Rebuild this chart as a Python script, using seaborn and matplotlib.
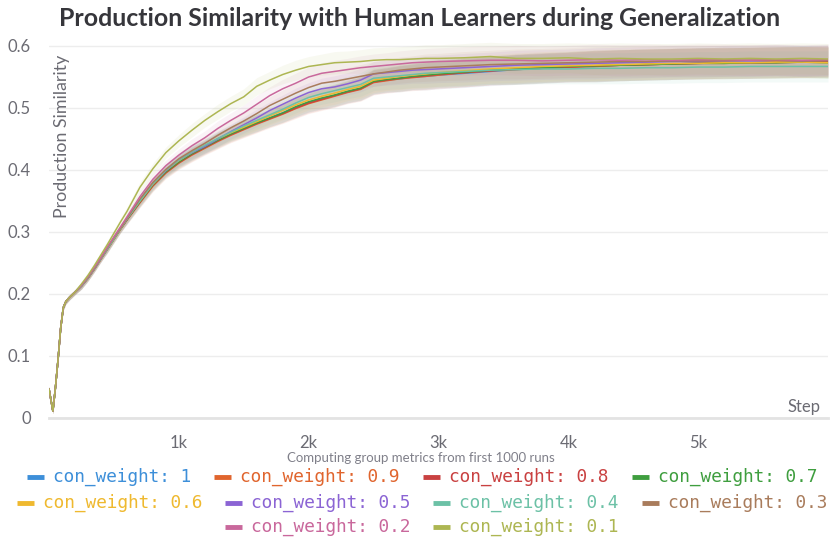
import numpy as np
import pandas as pd
import matplotlib
matplotlib.use("Agg")
import matplotlib.pyplot as plt
import seaborn as sns
from matplotlib.lines import Line2D

# ---------------- data ----------------
steps = [0, 30, 50, 70, 90, 110, 130, 160, 200, 250, 300, 350, 400, 450, 500, 550, 600,
         700, 800, 900, 1000, 1100, 1200, 1300, 1400, 1500, 1600, 1700, 1800, 1900, 2000,
         2100, 2200, 2300, 2400, 2500, 2600, 2700, 2800, 2900, 3000,
         3200, 3400, 3600, 3800, 4000, 4200, 4400, 4600, 4800, 5000, 5200, 5400, 5600, 5800, 6000]

# identical start for all runs (steps 0..200)
early_common = [0.047, 0.011, 0.050, 0.095, 0.145, 0.178, 0.188, 0.195, 0.203]

cw_1 = early_common + [0.213, 0.226, 0.241, 0.257, 0.273, 0.289, 0.305, 0.320,
        0.349, 0.376, 0.398, 0.414, 0.427, 0.438, 0.449, 0.459, 0.468, 0.476, 0.484, 0.492, 0.501, 0.509,
        0.515, 0.520, 0.526, 0.531, 0.542, 0.545, 0.547, 0.550, 0.551, 0.553,
        0.556, 0.559, 0.562, 0.564, 0.566, 0.567, 0.569, 0.570, 0.571, 0.572, 0.573, 0.573, 0.574, 0.575, 0.574]
cw_09 = early_common + [0.213, 0.225, 0.240, 0.256, 0.272, 0.288, 0.304, 0.319,
        0.347, 0.374, 0.395, 0.411, 0.424, 0.435, 0.446, 0.456, 0.465, 0.474, 0.482, 0.490, 0.499, 0.507,
        0.513, 0.519, 0.525, 0.530, 0.541, 0.544, 0.547, 0.549, 0.551, 0.553,
        0.557, 0.560, 0.562, 0.564, 0.566, 0.567, 0.569, 0.570, 0.571, 0.572, 0.572, 0.573, 0.573, 0.574, 0.574]
cw_08 = early_common + [0.213, 0.226, 0.241, 0.257, 0.273, 0.289, 0.305, 0.320,
        0.348, 0.375, 0.396, 0.412, 0.425, 0.436, 0.447, 0.457, 0.466, 0.475, 0.483, 0.491, 0.500, 0.508,
        0.514, 0.520, 0.526, 0.531, 0.542, 0.545, 0.548, 0.550, 0.552, 0.554,
        0.557, 0.560, 0.563, 0.565, 0.566, 0.568, 0.569, 0.570, 0.571, 0.572, 0.573, 0.573, 0.574, 0.574, 0.575]
cw_07 = early_common + [0.213, 0.226, 0.241, 0.257, 0.273, 0.289, 0.305, 0.320,
        0.349, 0.376, 0.397, 0.413, 0.426, 0.437, 0.448, 0.458, 0.467, 0.476, 0.484, 0.492, 0.502, 0.510,
        0.516, 0.521, 0.527, 0.532, 0.543, 0.546, 0.548, 0.551, 0.553, 0.555,
        0.558, 0.561, 0.563, 0.565, 0.567, 0.568, 0.569, 0.570, 0.571, 0.572, 0.572, 0.573, 0.573, 0.574, 0.573]
cw_06 = early_common + [0.213, 0.226, 0.241, 0.257, 0.273, 0.289, 0.305, 0.321,
        0.350, 0.377, 0.399, 0.415, 0.428, 0.439, 0.450, 0.460, 0.469, 0.478, 0.487, 0.496, 0.505, 0.513,
        0.519, 0.524, 0.530, 0.535, 0.545, 0.548, 0.551, 0.553, 0.555, 0.557,
        0.560, 0.563, 0.565, 0.567, 0.568, 0.569, 0.570, 0.571, 0.572, 0.572, 0.573, 0.573, 0.574, 0.574, 0.573]
cw_05 = early_common + [0.213, 0.226, 0.241, 0.257, 0.273, 0.290, 0.306, 0.321,
        0.351, 0.378, 0.399, 0.416, 0.428, 0.438, 0.450, 0.462, 0.473, 0.484, 0.496, 0.506, 0.516, 0.525,
        0.531, 0.534, 0.539, 0.545, 0.555, 0.557, 0.559, 0.561, 0.562, 0.563,
        0.565, 0.567, 0.569, 0.570, 0.571, 0.572, 0.573, 0.574, 0.575, 0.575, 0.576, 0.576, 0.577, 0.576, 0.577]
cw_04 = early_common + [0.213, 0.226, 0.241, 0.257, 0.273, 0.289, 0.305, 0.321,
        0.350, 0.378, 0.400, 0.416, 0.429, 0.440, 0.451, 0.461, 0.471, 0.480, 0.489, 0.498, 0.508, 0.517,
        0.523, 0.528, 0.533, 0.538, 0.548, 0.550, 0.552, 0.554, 0.556, 0.557,
        0.559, 0.561, 0.562, 0.563, 0.563, 0.564, 0.564, 0.565, 0.565, 0.566, 0.566, 0.567, 0.567, 0.567, 0.567]
cw_03 = early_common + [0.214, 0.227, 0.242, 0.258, 0.275, 0.291, 0.306, 0.322,
        0.353, 0.380, 0.401, 0.418, 0.431, 0.443, 0.456, 0.468, 0.479, 0.491, 0.504, 0.514, 0.524, 0.533,
        0.540, 0.543, 0.547, 0.551, 0.555, 0.558, 0.561, 0.563, 0.565, 0.566,
        0.568, 0.570, 0.571, 0.572, 0.573, 0.574, 0.575, 0.575, 0.576, 0.576, 0.576, 0.577, 0.577, 0.576, 0.576]
cw_02 = early_common + [0.214, 0.228, 0.243, 0.259, 0.276, 0.292, 0.308, 0.324,
        0.357, 0.385, 0.407, 0.424, 0.439, 0.452, 0.467, 0.480, 0.492, 0.506, 0.520, 0.531, 0.540, 0.550,
        0.556, 0.559, 0.562, 0.565, 0.567, 0.569, 0.571, 0.573, 0.574, 0.575,
        0.576, 0.577, 0.577, 0.576, 0.577, 0.578, 0.577, 0.578, 0.577, 0.578, 0.578, 0.577, 0.578, 0.577, 0.578]
cw_01 = early_common + [0.216, 0.230, 0.246, 0.263, 0.280, 0.298, 0.316, 0.333,
        0.372, 0.402, 0.428, 0.447, 0.464, 0.480, 0.494, 0.507, 0.518, 0.535, 0.545, 0.554, 0.561, 0.567,
        0.570, 0.573, 0.574, 0.575, 0.577, 0.578, 0.578, 0.579, 0.580, 0.580,
        0.581, 0.583, 0.580, 0.580, 0.581, 0.579, 0.580, 0.579, 0.579, 0.580, 0.579, 0.580, 0.579, 0.580, 0.579]

# half-width of the shaded band around each run group
band = [0.004, 0.004, 0.004, 0.004, 0.004, 0.004, 0.004, 0.004, 0.004, 0.005, 0.005, 0.005, 0.005,
        0.006, 0.006, 0.006, 0.007,
        0.008, 0.009, 0.009, 0.010, 0.011, 0.011, 0.012, 0.012, 0.013, 0.014, 0.014, 0.015, 0.016, 0.016,
        0.017, 0.018, 0.018, 0.019, 0.020, 0.020, 0.021, 0.021, 0.022, 0.022,
        0.023, 0.023, 0.024, 0.024, 0.024, 0.025, 0.025, 0.025, 0.025, 0.025, 0.025, 0.025, 0.025, 0.025, 0.025]

labels = ["con_weight: 1", "con_weight: 0.9", "con_weight: 0.8", "con_weight: 0.7",
          "con_weight: 0.6", "con_weight: 0.5", "con_weight: 0.4", "con_weight: 0.3",
          "con_weight: 0.2", "con_weight: 0.1"]
series = [cw_1, cw_09, cw_08, cw_07, cw_06, cw_05, cw_04, cw_03, cw_02, cw_01]
colors = ["#3d8fd9", "#e0652e", "#c94141", "#3f9e3f", "#efb92f",
          "#8b64d4", "#6cc1a6", "#a97c5c", "#c9689c", "#adb652"]

title = "Production Similarity with Human Learners during Generalization"
y_label = "Production Similarity"
x_label = "Step"
note = "Computing group metrics from first 1000 runs"
xticks = [1000, 2000, 3000, 4000, 5000]
xtick_labels = ["1k", "2k", "3k", "4k", "5k"]
yticks = [0, 0.1, 0.2, 0.3, 0.4, 0.5, 0.6]
ytick_labels = ["0", "0.1", "0.2", "0.3", "0.4", "0.5", "0.6"]

# ---------------- plot ----------------
sns.set_theme(style="white")
plt.rcParams["font.family"] = ["Lato", "DejaVu Sans"]

W, H = 832, 545
fig = plt.figure(figsize=(W / 100, H / 100), dpi=100)
left, right, bottom, top = 49, 828, 418, 38
ax = fig.add_axes([left / W, 1 - bottom / H, (right - left) / W, (bottom - top) / H])

df = pd.DataFrame({
    "step": np.tile(steps, len(series)),
    "value": np.concatenate([np.asarray(s) for s in series]),
    "run": np.repeat(labels, len(steps)),
})
palette = dict(zip(labels, colors))

band_arr = np.asarray(band)
for lab, s, c in zip(labels, series, colors):
    s = np.asarray(s)
    ax.fill_between(steps, s - band_arr, s + band_arr, color=c, alpha=0.08, lw=0, zorder=1)

sns.lineplot(data=df, x="step", y="value", hue="run", hue_order=labels,
             palette=palette, linewidth=1.1, legend=False, ax=ax, zorder=3)

ax.set_xlim(0, 6000)
ax.set_ylim(0, 0.6 + 8 / 620)
ax.set_xticks(xticks)
ax.set_xticklabels(xtick_labels)
ax.set_yticks(yticks)
ax.set_yticklabels(ytick_labels)
ax.set_xlabel("")
ax.set_ylabel("")
ax.grid(axis="y", color="#ededed", lw=1.0)
ax.grid(axis="x", visible=False)
for sp in ["top", "right", "left"]:
    ax.spines[sp].set_visible(False)
ax.spines["bottom"].set_color("#e3e3e3")
ax.spines["bottom"].set_linewidth(2.0)
ax.tick_params(axis="x", direction="in", length=6, width=1, color="#e3e3e3",
               labelsize=12, labelcolor="#6b6b73", pad=12)
ax.tick_params(axis="y", length=0, labelsize=12, labelcolor="#6b6b73", pad=13)

ax.text((62 - left) / (right - left), (bottom - 55) / (bottom - top), y_label,
        rotation=90, ha="center", va="top", fontsize=12.8, color="#6b6b73",
        transform=ax.transAxes)
ax.text((821 - left) / (right - left), (bottom - 407) / (bottom - top), x_label,
        ha="right", va="center", fontsize=12, color="#6b6b73", transform=ax.transAxes)

fig.text(420 / W, 1 - 18 / H, title, ha="center", va="center", fontsize=17.9,
         fontweight="bold", color="#36363b")
fig.text(421 / W, 1 - 458 / H, note, ha="center", va="center", fontsize=9.5, color="#80808a")

# legend (flow layout, 3 rows)
leg_pos = [(27, 477), (214, 477), (423, 477), (632, 477),
           (17, 503), (225, 503), (433, 503), (642, 503),
           (225, 527), (433, 527)]
for (px, py), lab, c in zip(leg_pos, labels, colors):
    fig.add_artist(Line2D([px / W, (px + 17) / W], [1 - py / H, 1 - py / H],
                          transform=fig.transFigure, color=c, lw=3.5,
                          solid_capstyle="butt"))
    fig.text((px + 26) / W, 1 - py / H, lab, ha="left", va="center",
             fontsize=12.8, color=c, family=["DejaVu Sans Mono"])

fig.savefig("out.png", dpi=100)
